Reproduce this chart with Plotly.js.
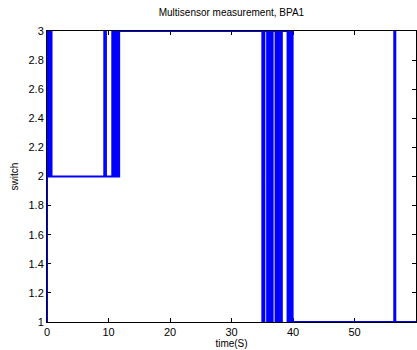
<!DOCTYPE html>
<html>
<head>
<meta charset="utf-8">
<script src="https://cdn.plot.ly/plotly-3.0.1.min.js"></script>
<style>
  html, body { margin: 0; padding: 0; background: #fff; }
  #chart { width: 417px; height: 350px; }
</style>
</head>
<body>
<div id="chart"></div>
<script>
// Switching instants (s) and the switch level taken from each instant (step signal)
const time = [
  0, 0.02, 0.2, 0.35, 0.5, 0.6, 0.75,
  9.3, 9.6,
  10.6, 10.75, 10.9, 11.05, 11.2, 11.35, 11.5, 11.65, 11.75,
  35.0, 35.12, 35.24, 35.36,
  35.78, 35.92, 36.06, 36.2, 36.34, 36.48, 36.6, 36.7,
  37.15, 37.3, 37.45, 37.6, 37.75, 37.9, 38.05, 38.2, 38.3,
  39.1, 39.25, 39.4, 39.55, 39.7, 39.85, 39.95,
  56.45, 56.65,
  60
];
const switchVal = [
  1, 3, 2, 3, 2, 3, 2,
  3, 2,
  3, 2, 3, 2, 3, 2, 3, 2, 3,
  1, 3, 1, 3,
  1, 3, 1, 3, 1, 3, 1, 3,
  1, 3, 1, 3, 1, 3, 1, 3, 3,
  1, 3, 1, 3, 1, 3, 1,
  3, 1,
  1
];
const xTicks = [0, 10, 20, 30, 40, 50, 60];
const yTicks = [1, 1.2, 1.4, 1.6, 1.8, 2, 2.2, 2.4, 2.6, 2.8, 3];
const yTickText = ["1", "1.2", "1.4", "1.6", "1.8", "2", "2.2", "2.4", "2.6", "2.8", "3"];

const font = { family: "Liberation Sans, Arial, sans-serif", size: 10, color: "#000" };

Plotly.newPlot("chart", [{
  x: time,
  y: switchVal,
  type: "scatter",
  mode: "lines",
  line: { color: "#0000FF", width: 1.8, shape: "hv" },
  hoverinfo: "skip"
}], {
  width: 417,
  height: 350,
  margin: { l: 47, r: 1, t: 31, b: 28, pad: 0 },
  paper_bgcolor: "#fff",
  plot_bgcolor: "#fff",
  showlegend: false,
  font: font,
  title: {
    text: "Multisensor measurement, BPA1",
    font: { family: font.family, size: 10, color: "#000" },
    x: 0.555, xanchor: "center", y: 0.963, yanchor: "middle"
  },
  xaxis: {
    range: [0, 60],
    tickvals: xTicks,
    ticktext: xTicks.map(String),
    ticks: "inside",
    ticklen: 4,
    tickcolor: "#000",
    showline: true,
    linecolor: "#000",
    linewidth: 1,
    mirror: "ticks",
    showgrid: false,
    zeroline: false,
    layer: "below traces",
    tickfont: { family: font.family, size: 11, color: "#000" },
    title: { text: "time(S)", font: { family: font.family, size: 10, color: "#000" }, standoff: 1 }
  },
  yaxis: {
    range: [1, 3],
    tickvals: yTicks,
    ticktext: yTickText,
    ticks: "inside",
    ticklen: 4,
    tickcolor: "#000",
    showline: true,
    linecolor: "#000",
    linewidth: 1,
    mirror: "ticks",
    showgrid: false,
    zeroline: false,
    layer: "below traces",
    tickfont: { family: font.family, size: 11, color: "#000" },
    title: { text: "switch", font: { family: font.family, size: 10, color: "#000" }, standoff: 8 }
  }
}, { displayModeBar: false, staticPlot: true });
</script>
</body>
</html>
